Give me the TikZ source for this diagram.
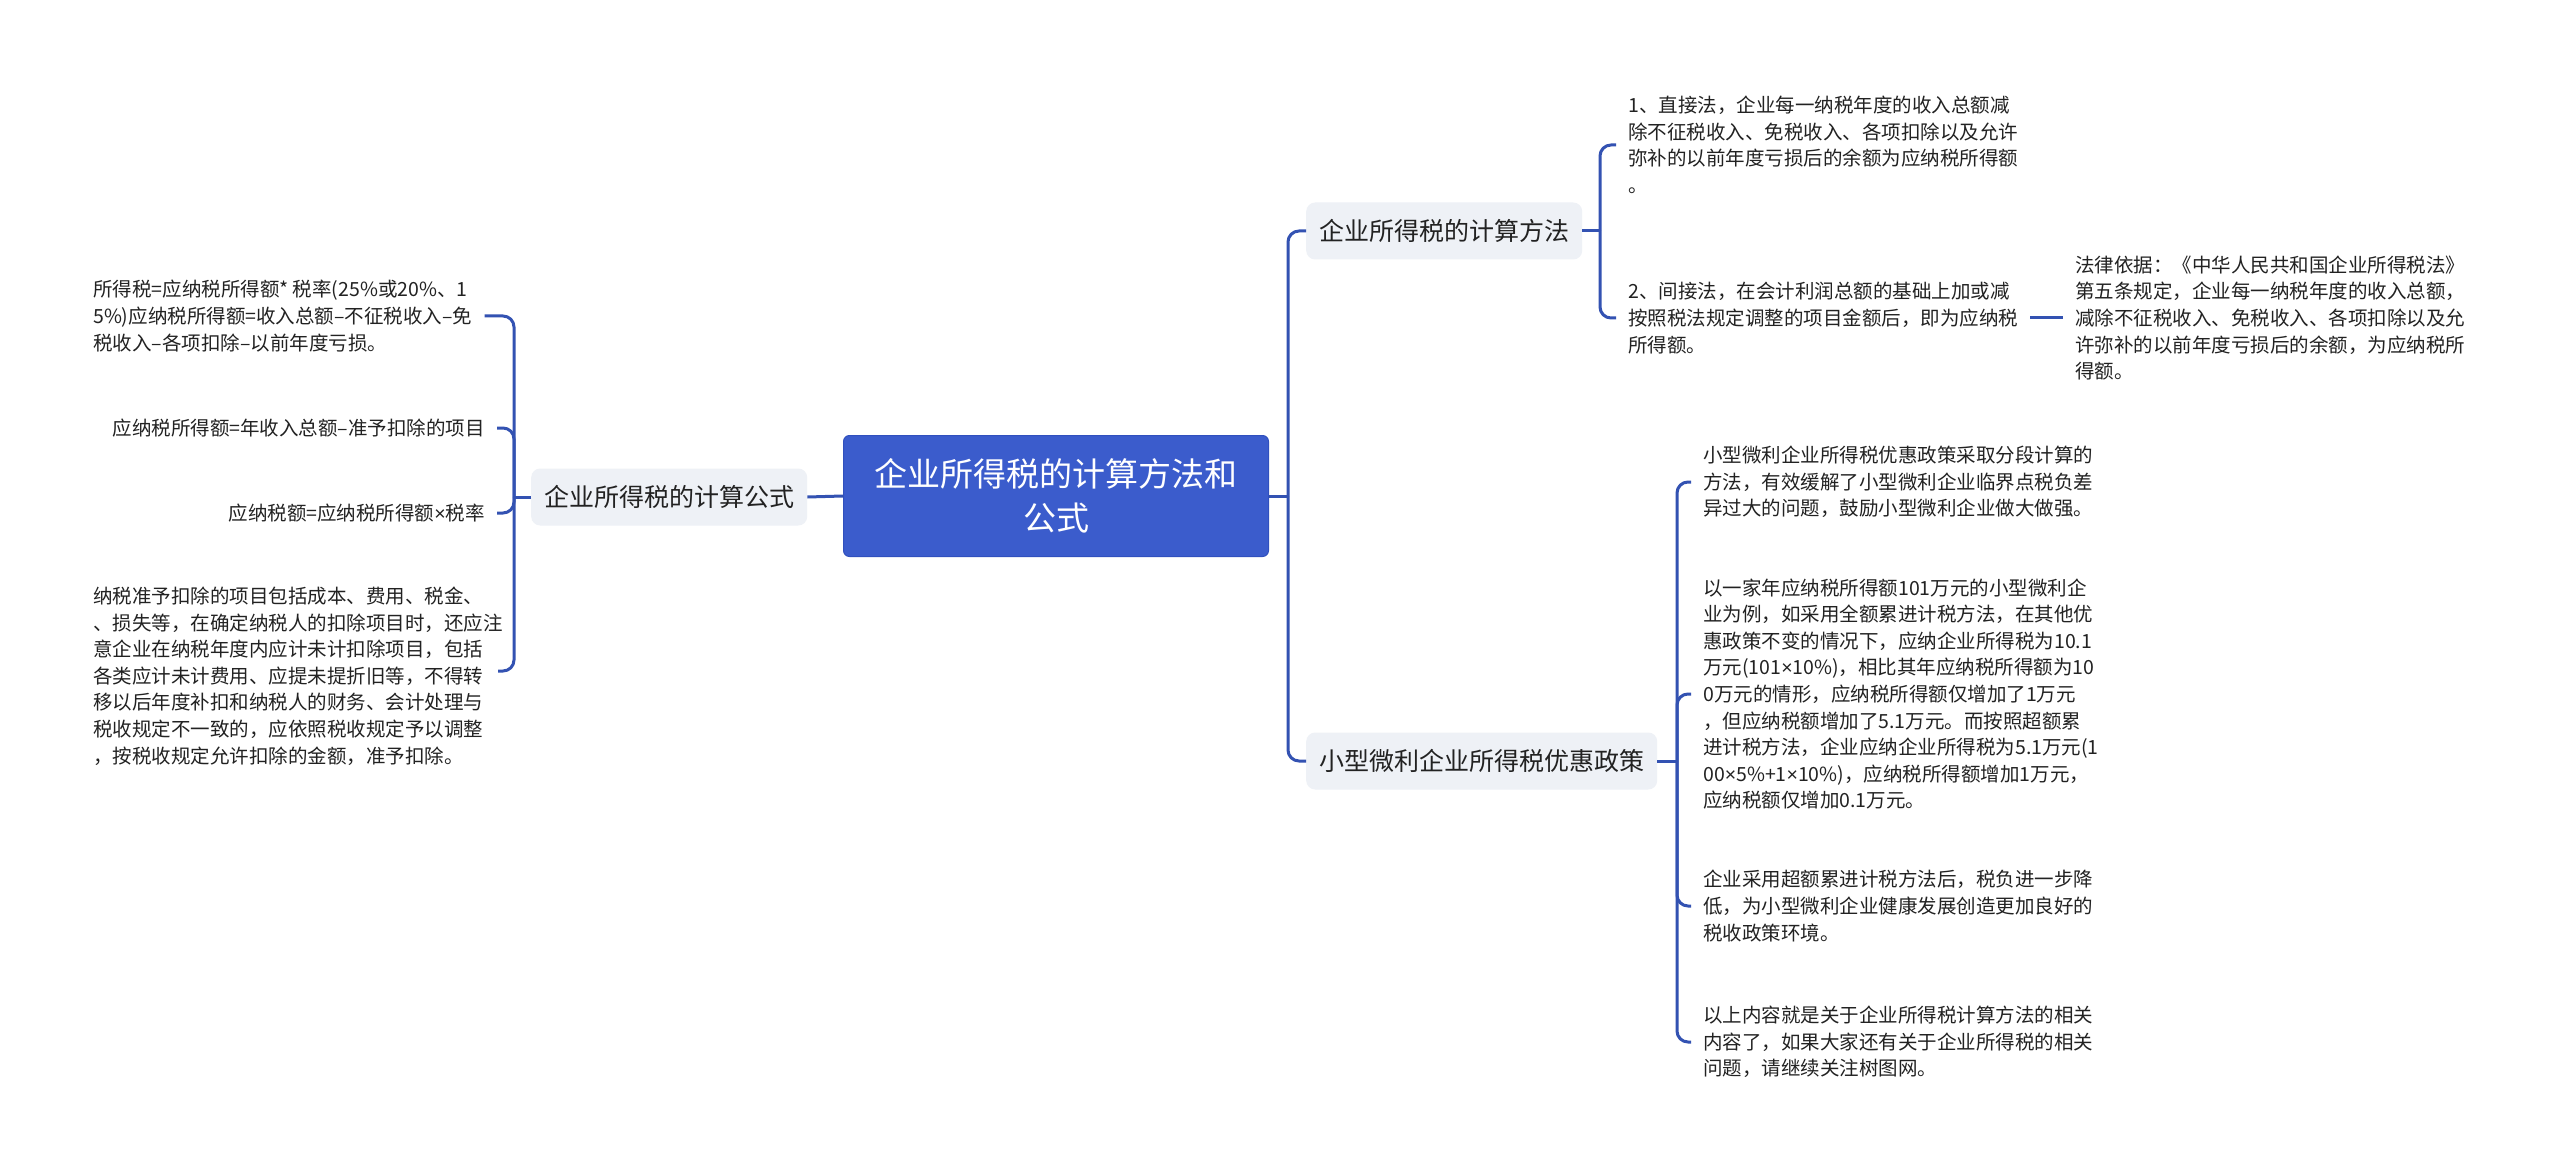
\documentclass[tikz,border=0pt]{standalone}
\usepackage{fontspec}
\newfontfamily\cjk{Noto Sans CJK SC}
\newfontfamily\latn{Liberation Sans}
\newcommand{\tms}{{\latn ×}}
\definecolor{linecol}{HTML}{3352B2}
\definecolor{rootfill}{HTML}{3B5CCC}
\definecolor{rootdraw}{HTML}{3050BE}
\definecolor{mainfill}{HTML}{EEF1F6}
\definecolor{txt}{HTML}{222222}
\tikzset{
  conn/.style={draw=linecol, line width=3pt, rounded corners=11pt},
  rootnode/.style={fill=rootfill, draw=rootdraw, line width=1pt, rounded corners=6pt,
    minimum width=425pt, minimum height=121pt, align=center, text=white,
    font=\cjk\fontsize{33}{44}\selectfont},
  mainnode/.style={fill=mainfill, rounded corners=9pt, inner xsep=13pt, inner ysep=0pt,
    minimum height=57pt, text=txt, font=\cjk\fontsize{25}{30}\selectfont},
  leaf/.style={inner sep=0pt, text=txt, font=\cjk\fontsize{19.5}{26.6}\selectfont},
}
\begin{document}
\begin{tikzpicture}[x=1pt,y=-1pt]
\useasboundingbox (0,0) rectangle (2560,1174);
\fill[white] (0,0) rectangle (2560,1174);

% root and main nodes
\node[rootnode] (root) at (1056,496) {企业所得税的计算方法和\\公式};
\node[mainnode, anchor=west] (lm) at (531,497) {企业所得税的计算公式};
\node[mainnode, anchor=west] (m1) at (1306,231) {企业所得税的计算方法};
\node[mainnode, anchor=west] (m2) at (1306,761) {小型微利企业所得税优惠政策};

% left leaves
\node[leaf, align=left, anchor=west] (l1) at (93,316) {所得税=应纳税所得额* 税率(25\%或20\%、1\\5\%)应纳税所得额=收入总额–不征税收入–免\\税收入–各项扣除–以前年度亏损。};
\node[leaf, align=right, anchor=east] (l2) at (485,428) {应纳税所得额=年收入总额–准予扣除的项目};
\node[leaf, align=right, anchor=east] (l3) at (485,513) {应纳税额=应纳税所得额\tms 税率};
\node[leaf, align=left, anchor=west] (l4) at (93,676) {纳税准予扣除的项目包括成本、费用、税金、\\、损失等，在确定纳税人的扣除项目时，还应注\\意企业在纳税年度内应计未计扣除项目，包括\\各类应计未计费用、应提未提折旧等，不得转\\移以后年度补扣和纳税人的财务、会计处理与\\税收规定不一致的，应依照税收规定予以调整\\，按税收规定允许扣除的金额，准予扣除。};

% right leaves (method)
\node[leaf, align=left, anchor=west] (r1) at (1628,145) {1、直接法，企业每一纳税年度的收入总额减\\除不征税收入、免税收入、各项扣除以及允许\\弥补的以前年度亏损后的余额为应纳税所得额\\。};
\node[leaf, align=left, anchor=west] (r2) at (1628,318) {2、间接法，在会计利润总额的基础上加或减\\按照税法规定调整的项目金额后，即为应纳税\\所得额。};
\node[leaf, align=left, anchor=west] (law) at (2075,318) {法律依据：《中华人民共和国企业所得税法》\\第五条规定，企业每一纳税年度的收入总额，\\减除不征税收入、免税收入、各项扣除以及允\\许弥补的以前年度亏损后的余额，为应纳税所\\得额。};

% right leaves (policy)
\node[leaf, align=left, anchor=west] (s1) at (1703,482) {小型微利企业所得税优惠政策采取分段计算的\\方法，有效缓解了小型微利企业临界点税负差\\异过大的问题，鼓励小型微利企业做大做强。};
\node[leaf, align=left, anchor=west] (s2) at (1703,694) {以一家年应纳税所得额101万元的小型微利企\\业为例，如采用全额累进计税方法，在其他优\\惠政策不变的情况下，应纳企业所得税为10.1\\万元(101\tms 10\%)，相比其年应纳税所得额为10\\0万元的情形，应纳税所得额仅增加了1万元\\，但应纳税额增加了5.1万元。而按照超额累\\进计税方法，企业应纳企业所得税为5.1万元(1\\00\tms 5\%+1\tms 10\%)，应纳税所得额增加1万元，\\应纳税额仅增加0.1万元。};
\node[leaf, align=left, anchor=west] (s3) at (1703,906) {企业采用超额累进计税方法后，税负进一步降\\低，为小型微利企业健康发展创造更加良好的\\税收政策环境。};
\node[leaf, align=left, anchor=west] (s4) at (1703,1042) {以上内容就是关于企业所得税计算方法的相关\\内容了，如果大家还有关于企业所得税的相关\\问题，请继续关注树图网。};

% trunks
\coordinate (lt) at (514,497);
\coordinate (rt) at (1288,496);
\coordinate (t1) at (1600,231);
\coordinate (t2) at (1677,761);

% connectors root
\draw[conn] (root.west) -- (lm.east);
\draw[conn] (root.east) -- (rt);
\draw[conn] (rt) |- (m1.west);
\draw[conn] (rt) |- (m2.west);

% left
\draw[conn] (lm.west) -- (lt);
\draw[conn] (lt) |- ([xshift=12pt]l1.east);
\draw[conn] (lt) |- ([xshift=12pt]l2.east);
\draw[conn] (lt) |- ([xshift=12pt]l3.east);
\draw[conn] (lt) |- (498,671);

% method
\draw[conn] (m1.east) -- (t1);
\draw[conn] (t1) |- ([xshift=-12pt]r1.west);
\draw[conn] (t1) |- ([xshift=-12pt]r2.west);
\draw[conn] ([xshift=12pt]r2.east) -- ([xshift=-12pt]law.west);

% policy
\draw[conn] (m2.east) -- (t2);
\draw[conn] (t2) |- ([xshift=-12pt]s1.west);
\draw[conn] (t2) |- ([xshift=-12pt]s2.west);
\draw[conn] (t2) |- ([xshift=-12pt]s3.west);
\draw[conn] (t2) |- ([xshift=-12pt]s4.west);
\end{tikzpicture}
\end{document}
